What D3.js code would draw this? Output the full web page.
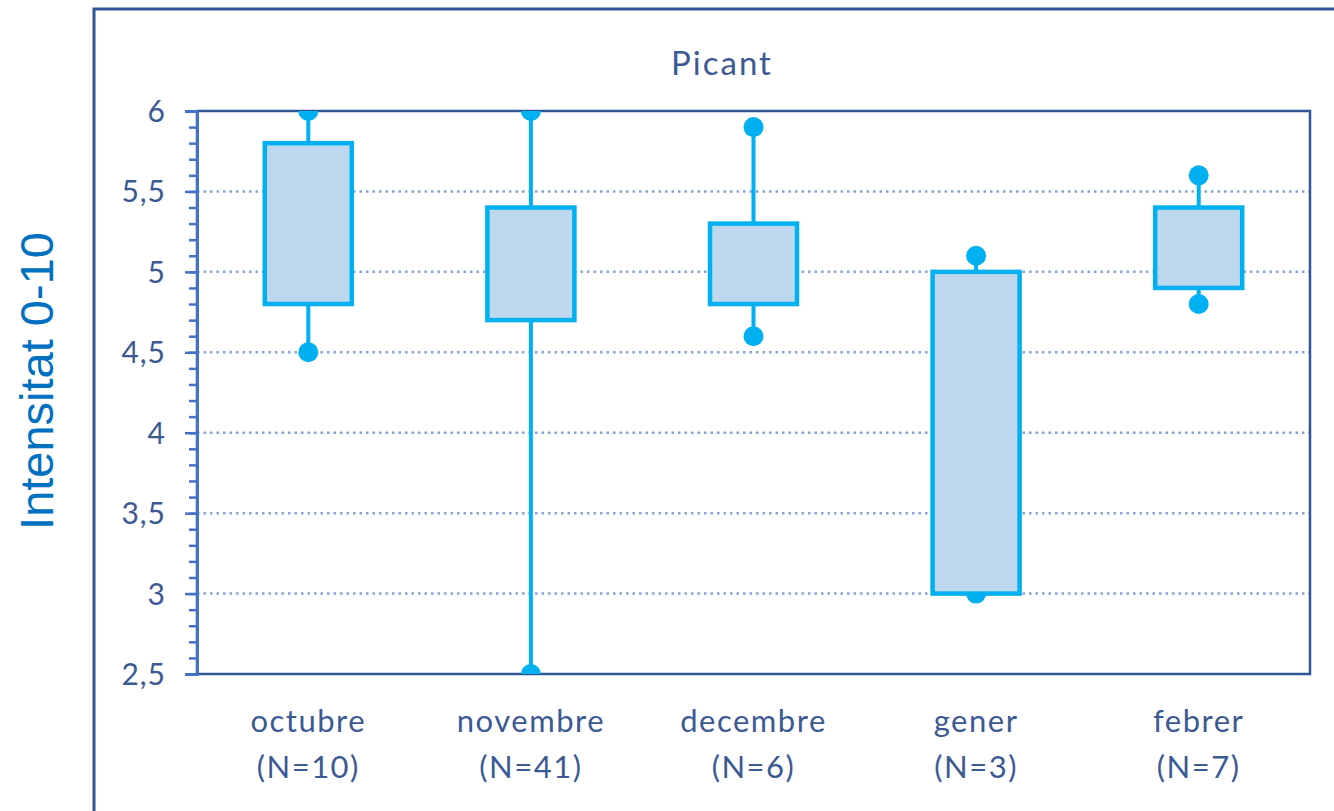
<!DOCTYPE html>
<html>
<head>
<meta charset="utf-8">
<script src="https://cdn.jsdelivr.net/npm/d3@7"></script>
<style>
  body { margin: 0; background: #fff; }
  svg { display: block; }
</style>
</head>
<body>
<div id="chart"></div>
<script>

// chart values
const months = ["octubre", "novembre", "decembre", "gener", "febrer"];
const counts = ["(N=10)", "(N=41)", "(N=6)", "(N=3)", "(N=7)"];
const minVals = [4.5, 2.5, 4.6, 3.0, 4.8];
const q1Vals  = [4.8, 4.7, 4.8, 3.0, 4.9];
const q3Vals  = [5.8, 5.4, 5.3, 5.0, 5.4];
const maxVals = [6.0, 6.0, 5.9, 5.1, 5.6];
const yTicks = [2.5, 3, 3.5, 4, 4.5, 5, 5.5, 6];

const width = 1334, height = 811;
const margin = { left: 197, right: 24, top: 111, bottom: 137 };  // plot area 197..1310, 111..674
const font = "Lato, 'Open Sans', sans-serif";
const textColor = "#3b5a94";

const svg = d3.select("#chart").append("svg")
    .attr("width", width)
    .attr("height", height);

// outer frame, runs off the right and bottom edges
svg.append("rect")
    .attr("x", 94).attr("y", 9)
    .attr("width", 1300).attr("height", 900)
    .attr("fill", "none")
    .attr("stroke", "#2f5597")
    .attr("stroke-width", 3);

const x = d3.scaleBand()
    .domain(months)
    .range([margin.left, width - margin.right]);

const y = d3.scaleLinear()
    .domain([2.5, 6])
    .range([height - margin.bottom, margin.top]);

const loc = d3.formatLocale({ decimal: ",", thousands: ".", grouping: [3], currency: ["", "€"] });
const fmt = loc.format(".1~f");

// grid lines (dotted)
svg.append("g").selectAll("line")
    .data(yTicks.filter(d => d > 2.5 && d < 6))
    .join("line")
    .attr("x1", margin.left).attr("x2", width - margin.right)
    .attr("y1", d => y(d)).attr("y2", d => y(d))
    .attr("stroke", "#86a3d8")
    .attr("stroke-width", 2.5)
    .attr("stroke-dasharray", "2.5,4");

// plot area border
svg.append("rect")
    .attr("x", margin.left).attr("y", margin.top)
    .attr("width", width - margin.right - margin.left)
    .attr("height", height - margin.bottom - margin.top)
    .attr("fill", "none")
    .attr("stroke", "#2f5597")
    .attr("stroke-width", 2.5);

// minor ticks every 0.1
const minor = d3.range(25, 61).map(d => d / 10);
svg.append("g")
    .attr("transform", `translate(${margin.left},0)`)
    .call(d3.axisLeft(y).tickValues(minor).tickSize(8).tickFormat(""))
    .call(g => g.select(".domain").remove())
    .selectAll("line").attr("stroke", "#4472c4").attr("stroke-width", 2.5);

// major ticks with labels
const yAxis = svg.append("g")
    .attr("transform", `translate(${margin.left},0)`)
    .call(d3.axisLeft(y).tickValues(yTicks).tickSize(12).tickPadding(19).tickFormat(fmt));
yAxis.select(".domain").attr("stroke", "#4472c4").attr("stroke-width", 3);
yAxis.selectAll("line").attr("stroke", "#4472c4").attr("stroke-width", 2.5);
yAxis.selectAll("text")
    .attr("fill", textColor)
    .style("font-family", font)
    .style("font-size", "30px")
    .style("letter-spacing", "1px")
    .attr("dy", "0.35em");

// clip marks to plot area
svg.append("clipPath").attr("id", "plotClip")
    .append("rect")
    .attr("x", margin.left).attr("y", margin.top)
    .attr("width", width - margin.right - margin.left)
    .attr("height", height - margin.bottom - margin.top);

const boxes = svg.append("g").attr("clip-path", "url(#plotClip)")
    .selectAll("g.box")
    .data(months.map((m, i) => ({ m, min: minVals[i], q1: q1Vals[i], q3: q3Vals[i], max: maxVals[i] })))
    .join("g").attr("class", "box");

const boxW = 87;
const cx = d => x(d.m) + x.bandwidth() / 2;
const stroke = "#00b0f0";

boxes.append("line")   // whisker line
    .attr("x1", cx).attr("x2", cx)
    .attr("y1", d => y(d.min)).attr("y2", d => y(d.max))
    .attr("stroke", stroke).attr("stroke-width", 4);

boxes.selectAll("circle")
    .data(d => [{ d, v: d.min }, { d, v: d.max }])
    .join("circle")
    .attr("cx", e => cx(e.d))
    .attr("cy", e => y(e.v))
    .attr("r", 10)
    .attr("fill", stroke);

boxes.append("rect")
    .attr("x", d => cx(d) - boxW / 2)
    .attr("y", d => y(d.q3))
    .attr("width", boxW)
    .attr("height", d => y(d.q1) - y(d.q3))
    .attr("fill", "#bdd7ee")
    .attr("stroke", stroke)
    .attr("stroke-width", 4.5);

// x labels
const xl = svg.append("g").selectAll("text")
    .data(months)
    .join("text")
    .attr("x", d => x(d) + x.bandwidth() / 2)
    .attr("text-anchor", "middle")
    .attr("fill", textColor)
    .style("font-family", font)
    .style("font-size", "31px")
    .style("letter-spacing", "1.5px");
xl.append("tspan").attr("x", d => x(d) + x.bandwidth() / 2).attr("y", 732).text(d => d);
xl.append("tspan").attr("x", d => x(d) + x.bandwidth() / 2).attr("y", 778).text((d, i) => counts[i]);

// title
svg.append("text")
    .attr("x", 722).attr("y", 75)
    .attr("text-anchor", "middle")
    .attr("fill", textColor)
    .style("font-family", font)
    .style("font-size", "33px")
    .style("letter-spacing", "2px")
    .text("Picant");

// y axis title
svg.append("text")
    .attr("transform", "translate(53,381) rotate(-90)")
    .attr("text-anchor", "middle")
    .attr("fill", "#0070c0")
    .style("font-family", "'Liberation Sans', Arial, sans-serif")
    .style("font-size", "47px")
    .text("Intensitat 0-10");

</script>
</body>
</html>
